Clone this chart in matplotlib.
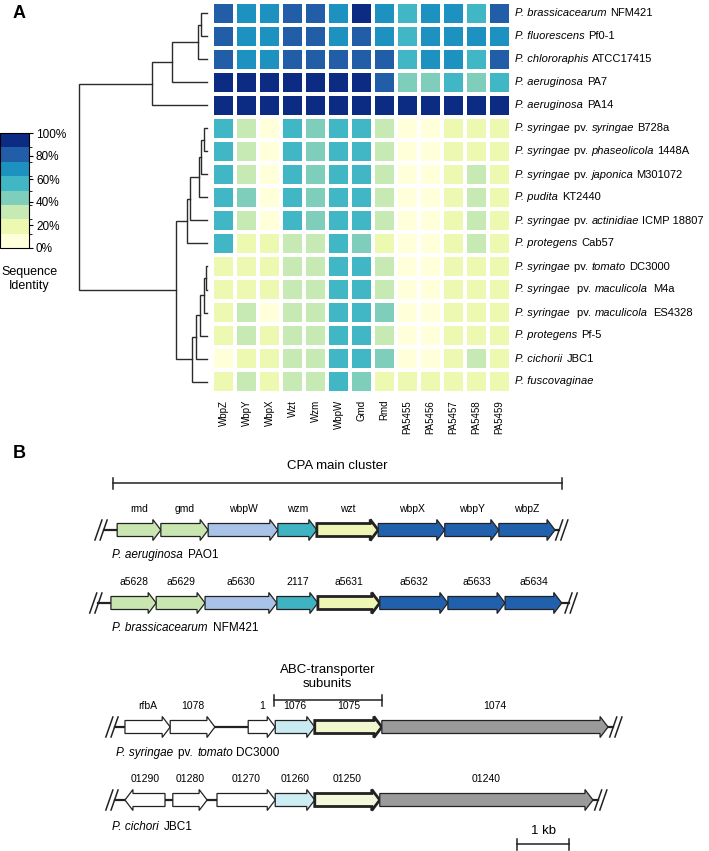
import matplotlib
matplotlib.use('Agg')
import numpy as np
import matplotlib.pyplot as plt
from matplotlib.colors import ListedColormap, BoundaryNorm
from matplotlib.patches import Polygon
from matplotlib.transforms import offset_copy
from matplotlib.font_manager import findfont, FontProperties, get_font

plt.rcParams['font.family'] = 'Liberation Sans'

W, H = 709, 851

# ---------------- panel A data
proteins = ['WbpZ', 'WbpY', 'WbpX', 'Wzt', 'Wzm', 'WbpW', 'Gmd', 'Rmd',
            'PA5455', 'PA5456', 'PA5457', 'PA5458', 'PA5459']
strains = ['*P. brassicacearum* NFM421', '*P. fluorescens* Pf0-1',
           '*P. chlororaphis* ATCC17415', '*P. aeruginosa* PA7',
           '*P. aeruginosa* PA14', '*P. syringae* pv. *syringae* B728a',
           '*P. syringae* pv. *phaseolicola* 1448A',
           '*P. syringae* pv. *japonica* M301072', '*P. pudita* KT2440',
           '*P. syringae* pv. *actinidiae* ICMP 18807', '*P. protegens* Cab57',
           '*P. syringae* pv. *tomato* DC3000',
           '*P. syringae*  pv. *maculicola*  M4a',
           '*P. syringae*  pv. *maculicola*  ES4328', '*P. protegens* Pf-5',
           '*P. cichorii* JBC1', '*P. fuscovaginae*']
# percent identity to the PAO1 proteins
identity = [
    [81, 69, 69, 81, 81, 69, 94, 69, 56, 69, 69, 56, 81],
    [81, 69, 69, 81, 81, 69, 81, 69, 56, 69, 69, 69, 69],
    [81, 69, 69, 81, 81, 81, 81, 81, 56, 69, 69, 56, 81],
    [94, 94, 94, 94, 94, 94, 94, 81, 44, 44, 56, 44, 56],
    [99, 99, 99, 99, 99, 99, 99, 99, 99, 99, 99, 99, 99],
    [56, 31, 5, 56, 44, 56, 56, 31, 5, 5, 18, 18, 18],
    [56, 31, 5, 56, 44, 56, 56, 31, 5, 5, 18, 18, 18],
    [56, 31, 5, 56, 44, 56, 56, 31, 5, 5, 18, 31, 18],
    [56, 44, 5, 56, 44, 56, 56, 31, 5, 5, 18, 31, 18],
    [56, 31, 5, 56, 44, 56, 56, 31, 5, 5, 18, 31, 18],
    [56, 18, 18, 31, 31, 56, 44, 18, 5, 5, 18, 31, 18],
    [18, 18, 18, 31, 31, 56, 56, 31, 5, 5, 18, 18, 18],
    [18, 18, 18, 31, 31, 56, 56, 31, 5, 5, 18, 18, 18],
    [18, 31, 5, 31, 31, 56, 56, 44, 5, 5, 18, 18, 18],
    [18, 31, 18, 31, 31, 56, 56, 31, 5, 5, 18, 18, 18],
    [5, 18, 18, 31, 31, 56, 56, 44, 5, 5, 18, 31, 18],
    [18, 31, 18, 31, 31, 56, 44, 18, 18, 18, 18, 18, 18],
]
# dendrogram merges: node ids 0-16 are rows, new nodes numbered from 17
link_a = [0, 17, 18, 19, 5, 21, 22, 23, 24, 11, 26, 27, 28, 29, 25, 20]
link_b = [1, 2, 3, 4, 6, 7, 8, 9, 10, 12, 13, 14, 15, 16, 30, 31]
link_h = [5.7, 9, 35, 55, 3.3, 6.3, 8.3, 17.3, 19.7, 0.7, 3.3, 7.3, 10.7, 15, 31.3, 128]

ylgnbu8 = ['#ffffd9', '#edf8b1', '#c7e9b4', '#7fcdbb',
           '#41b6c4', '#1d91c0', '#225ea8', '#0c2c84']
cmap = ListedColormap(ylgnbu8)
norm = BoundaryNorm(np.linspace(0, 100, 9), cmap.N)

# ---------------- panel B data (kb)
pao1_genes = ['rmd', 'gmd', 'wbpW', 'wzm', 'wzt', 'wbpX', 'wbpY', 'wbpZ']
pao1_bounds = [0.08, 0.92, 1.83, 3.17, 3.92, 5.10, 6.38, 7.42, 8.50]
nfm_genes = ['a5628', 'a5629', 'a5630', '2117', 'a5631', 'a5632', 'a5633', 'a5634']
nfm_bounds = [-0.04, 0.83, 1.77, 3.15, 3.94, 5.13, 6.44, 7.54, 8.63]
dc_genes = ['rfbA', '1078', '1', '1076', '1075', '1074']
dc_start = [0.23, 1.10, 2.60, 3.12, 3.88, 5.17]
dc_end = [1.10, 1.96, 3.12, 3.88, 5.17, 9.52]
jbc_genes = ['01290', '01280', '01270', '01260', '01250', '01240']
jbc_start = [0.23, 1.15, 2.00, 3.12, 3.88, 5.13]
jbc_end = [1.00, 1.81, 3.12, 3.88, 5.13, 9.23]
jbc_strand = [-1, 1, 1, 1, 1, 1]

cpa_colors = ['#c9e6b1', '#c9e6b1', '#a9c3e8', '#3fb3c2', '#edf6b3',
              '#2160ad', '#2160ad', '#2160ad']
dc_colors = ['white', 'white', 'white', '#c8eaf1', '#f2f7cf', '#9a9a9a']
jbc_colors = ['white', 'white', 'white', '#cdedf3', '#f5f8dc', '#9a9a9a']
thick = {'wzt', 'a5631', '1075', '01250'}


def box(x0, y0, x1, y1):
    return [x0 / W, 1 - y1 / H, (x1 - x0) / W, (y1 - y0) / H]


fig = plt.figure(figsize=(W / 100, H / 100), dpi=100)


def adv_width(s, fontsize, style):
    # sum of glyph advances in pixels (spaces included)
    font = get_font(findfont(FontProperties(family='Liberation Sans', style=style)))
    font.set_size(fontsize, fig.dpi)
    return sum(font.load_char(ord(c)).linearHoriAdvance for c in s) / 65536


def rich_text(ax, x, y, label, fontsize, dx0=0):
    # label with *italic* parts, drawn piece by piece
    dx = dx0
    for i, p in enumerate(label.split('*')):
        if not p:
            continue
        style = 'italic' if i % 2 else 'normal'
        core = p.lstrip(' ')
        dx += adv_width(p[:len(p) - len(core)], fontsize, style)
        tr = offset_copy(ax.transData, fig=fig, x=dx, y=0, units='dots')
        ax.text(x, y, core, fontsize=fontsize, style=style, ha='left',
                va='center', transform=tr)
        dx += adv_width(core, fontsize, style)


# heatmap
ax_h = fig.add_axes(box(212, 2, 511, 393))
mesh = ax_h.pcolormesh(np.array(identity), cmap=cmap, norm=norm,
                       edgecolors='white', linewidth=1.6)
ax_h.set_ylim(len(strains), 0)
ax_h.set_xlim(0, len(proteins))
ax_h.set_xticks(np.arange(len(proteins)) + 0.5)
ax_h.set_xticklabels(proteins, rotation=90, fontsize=7)
ax_h.set_yticks([])
ax_h.tick_params(length=0, pad=5)
for s in ax_h.spines.values():
    s.set_visible(False)
for i, s in enumerate(strains):
    rich_text(ax_h, len(proteins), i + 0.5, s, 8, dx0=4)

# dendrogram
ax_d = fig.add_axes(box(79, 2, 207, 393))
ax_d.set_ylim(len(strains), 0)
ax_d.set_xlim(128, 0)
ax_d.axis('off')
pos = {i: (i + 0.5, 0.0) for i in range(len(strains))}
for k, (a, b, h) in enumerate(zip(link_a, link_b, link_h)):
    ya, ha = pos[a]
    yb, hb = pos[b]
    ax_d.plot([ha, h, h, hb], [ya, ya, yb, yb], color='#2b2b2b', lw=1.0,
              clip_on=False, solid_joinstyle='miter')
    pos[len(strains) + k] = ((ya + yb) / 2, h)

# colour bar
cax = fig.add_axes(box(0, 133, 29, 248))
cb = fig.colorbar(mesh, cax=cax, ticks=[0, 20, 40, 60, 80, 100])
cb.ax.set_yticklabels(['%d%%' % t for t in [0, 20, 40, 60, 80, 100]])
cb.ax.tick_params(length=3, width=0.8, labelsize=8.5, pad=2)
cb.outline.set_linewidth(0.8)
fig.text(29 / W, 1 - 279 / H, 'Sequence\nIdentity', ha='center', va='center',
         fontsize=9, linespacing=1.25)

fig.text(13 / W, 1 - 14 / H, 'A', fontsize=13, fontweight='bold', va='center')
fig.text(13 / W, 1 - 453 / H, 'B', fontsize=13, fontweight='bold', va='center')

# ---------------- panel B
KB = 52.0  # pixels per kb
ax_b = fig.add_axes(box(0, 440, W, H))
ax_b.set_xlim(-113 / KB, (W - 113) / KB)
ax_b.set_ylim(H, 440)
ax_b.axis('off')


def arrow(x0, x1, y, color, lw, strand=1):
    hl = 8 / KB
    bh, hh = 6.5, 10.5
    if strand > 0:
        xs = [x0, x1 - hl, x1 - hl, x1, x1 - hl, x1 - hl, x0]
    else:
        xs = [x1, x0 + hl, x0 + hl, x0, x0 + hl, x0 + hl, x1]
    ys = [y - bh, y - bh, y - hh, y, y + hh, y + bh, y + bh]
    ax_b.add_patch(Polygon(np.column_stack([xs, ys]), closed=True,
                           facecolor=color, edgecolor='#222222', lw=lw,
                           joinstyle='miter', zorder=3))


def slash(xc, y):
    for o in (-2.6, 2.6):
        ax_b.plot([(xc * KB + o - 3.5) / KB, (xc * KB + o + 3.5) / KB],
                  [y + 10, y - 10], color='#222222', lw=1.1, zorder=4)


def locus(starts, ends, names, colors, y, left, right, strands=None):
    ax_b.plot([left + 2.6 / KB, right - 2.6 / KB], [y, y], color='#222222',
              lw=1.6, zorder=1)
    slash(left, y)
    slash(right, y)
    for i, (s, e, n, c) in enumerate(zip(starts, ends, names, colors)):
        st = strands[i] if strands else 1
        arrow(s, e, y, c, 2.0 if n in thick else 0.9, st)
        ax_b.text((s + e) / 2, y - 21, n, ha='center', va='center', fontsize=7.5)


locus(pao1_bounds[:-1], pao1_bounds[1:], pao1_genes, cpa_colors, 530, -0.23, 8.63)
locus(nfm_bounds[:-1], nfm_bounds[1:], nfm_genes, cpa_colors, 603, -0.33, 8.81)
locus(dc_start, dc_end, dc_genes, dc_colors, 727, -0.02, 9.67)
locus(jbc_start, jbc_end, jbc_genes, jbc_colors, 800, -0.02, 9.38, jbc_strand)

for txt, x, y in [('*P. aeruginosa* PAO1', 112, 555),
                  ('*P. brassicacearum* NFM421', 112, 628),
                  ('*P. syringae* pv. *tomato* DC3000', 116, 753),
                  ('*P. cichori* JBC1', 112, 827)]:
    rich_text(ax_b, (x - 113) / KB, y, txt, 8.5)


def bracket(x0, x1, y):
    ax_b.plot([x0, x1], [y, y], color='#222222', lw=1.1)
    for x in (x0, x1):
        ax_b.plot([x, x], [y - 5.5, y + 5.5], color='#222222', lw=1.1)


bracket(0.0, 8.63, 483)
ax_b.text(4.31, 466, 'CPA main cluster', ha='center', va='center', fontsize=9.5)
bracket(3.10, 5.17, 700)
ax_b.text(4.13, 677, 'ABC-transporter\nsubunits', ha='center', va='center',
          fontsize=9.5, linespacing=1.2)
bracket(7.77, 8.77, 844)
ax_b.text(8.27, 831, '1 kb', ha='center', va='center', fontsize=9.5)

fig.savefig('out.png', dpi=100)
